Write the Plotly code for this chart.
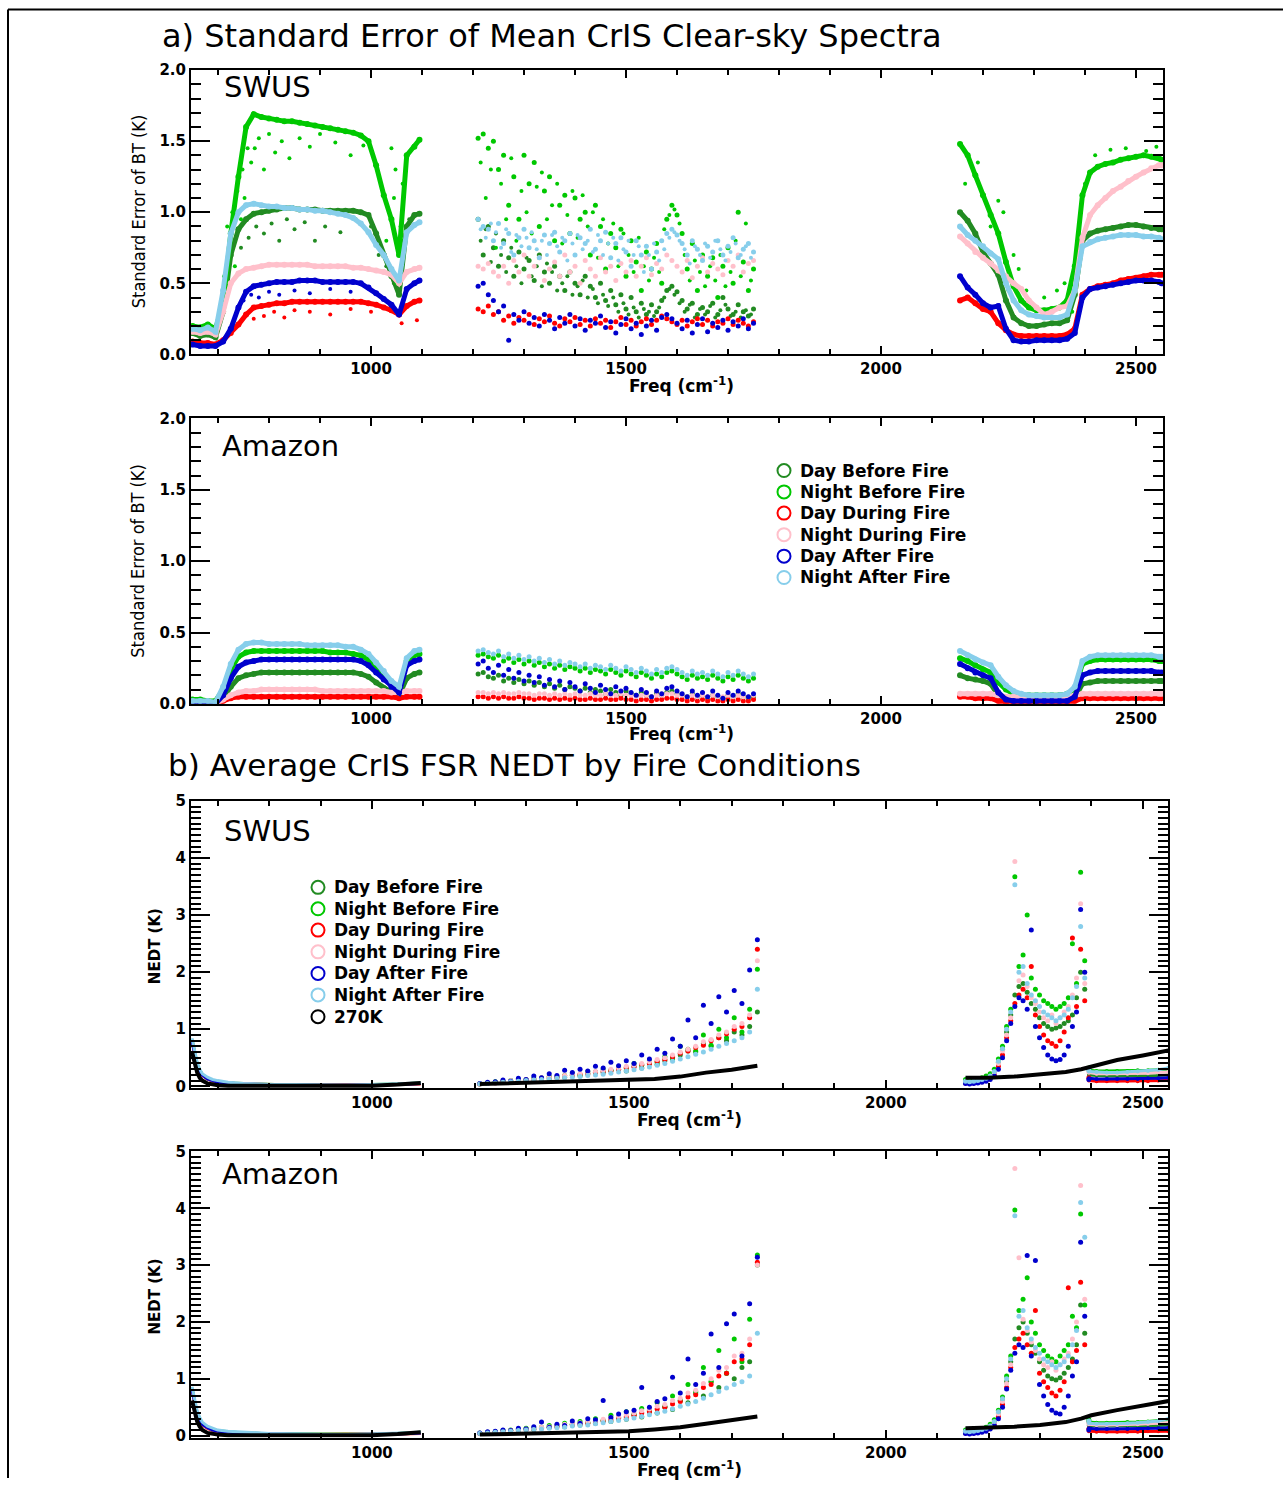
import plotly.graph_objects as go

W, H = 1283, 1487

SERIES = ["Day Before Fire", "Night Before Fire", "Day During Fire",
          "Night During Fire", "Day After Fire", "Night After Fire"]
COLORS = ["#228B22", "#00C800", "#FF0000", "#FFC0CB", "#0000CD", "#87CEEB"]
REF_NAME = "270K"
REF_COLOR = "#000000"

# ---------------- frequency grids (cm-1) ----------------
F1 = [650, 665, 680, 695, 710, 725, 740, 755, 770, 785,
      800, 815, 830, 845, 860, 875, 890, 905, 920, 935,
      950, 965, 980, 995, 1010, 1025, 1040, 1055, 1070, 1085, 1095]
F2 = list(range(1210, 1751, 10))
F2X = list(range(1215, 1750, 10))
F3 = [2155, 2170, 2185, 2200, 2215, 2230, 2245, 2260, 2275, 2290,
      2305, 2320, 2335, 2350, 2365, 2380, 2395, 2410, 2425, 2440,
      2455, 2470, 2485, 2500, 2515, 2530, 2545, 2550]

FB1 = [650, 655, 660, 665, 670, 680, 690, 700, 720, 750, 800, 850, 900, 950, 1000, 1050, 1095]
FB2 = list(range(1210, 1751, 15))
FB2K = [1210, 1300, 1400, 1500, 1550, 1600, 1650, 1700, 1750]
FB3 = list(range(2155, 2396, 8))
FB3F = [2395, 2410, 2430, 2450, 2470, 2490, 2510, 2530, 2550]
FB3K = [2155, 2200, 2250, 2300, 2350, 2380, 2400, 2450, 2500, 2550]

# ---------------- a) SWUS standard error (K) ----------------
A_SWUS_B1 = [
    [0.15, 0.13, 0.14, 0.12, 0.30, 0.70, 0.88, 0.95, 0.99, 1.00,
     1.01, 1.02, 1.03, 1.03, 1.02, 1.02, 1.02, 1.01, 1.01, 1.01,
     1.01, 1.01, 1.00, 0.98, 0.85, 0.70, 0.55, 0.42, 0.90, 0.98, 0.99],
    [0.20, 0.19, 0.21, 0.18, 0.35, 0.85, 1.25, 1.60, 1.69, 1.67,
     1.66, 1.65, 1.64, 1.64, 1.63, 1.62, 1.61, 1.60, 1.59, 1.58,
     1.57, 1.56, 1.54, 1.50, 1.33, 1.12, 0.95, 0.70, 1.40, 1.46, 1.51],
    [0.09, 0.08, 0.08, 0.07, 0.10, 0.15, 0.21, 0.28, 0.33, 0.34,
     0.35, 0.36, 0.36, 0.37, 0.37, 0.37, 0.37, 0.37, 0.37, 0.37,
     0.37, 0.37, 0.37, 0.36, 0.35, 0.33, 0.31, 0.28, 0.34, 0.37, 0.38],
    [0.16, 0.15, 0.16, 0.14, 0.30, 0.50, 0.57, 0.60, 0.61, 0.62,
     0.63, 0.63, 0.63, 0.63, 0.63, 0.63, 0.62, 0.62, 0.62, 0.62,
     0.62, 0.61, 0.61, 0.60, 0.59, 0.58, 0.56, 0.50, 0.58, 0.60, 0.61],
    [0.07, 0.06, 0.06, 0.06, 0.09, 0.18, 0.33, 0.44, 0.48, 0.49,
     0.50, 0.51, 0.51, 0.51, 0.52, 0.52, 0.52, 0.51, 0.51, 0.51,
     0.51, 0.51, 0.50, 0.47, 0.43, 0.39, 0.35, 0.28, 0.46, 0.50, 0.52],
    [0.18, 0.17, 0.19, 0.16, 0.45, 0.85, 1.00, 1.05, 1.06, 1.05,
     1.04, 1.04, 1.03, 1.03, 1.02, 1.02, 1.01, 1.01, 1.00, 0.99,
     0.98, 0.96, 0.92, 0.86, 0.77, 0.70, 0.60, 0.52, 0.86, 0.91, 0.93],
]
A_SWUS_B2 = [
    [0.95, 0.70, 0.90, 0.75, 0.62, 0.80, 0.68, 0.55, 0.72, 0.60,
     0.66, 0.52, 0.70, 0.58, 0.50, 0.62, 0.55, 0.45, 0.58, 0.50,
     0.42, 0.55, 0.48, 0.40, 0.50, 0.38, 0.45, 0.35, 0.42, 0.32,
     0.40, 0.30, 0.36, 0.28, 0.35, 0.30, 0.38, 0.45, 0.48, 0.44,
     0.38, 0.32, 0.36, 0.28, 0.33, 0.30, 0.36, 0.28, 0.40, 0.32,
     0.28, 0.35, 0.30, 0.27, 0.32],
    [1.52, 1.55, 1.45, 1.50, 1.30, 1.40, 1.05, 1.25, 0.95, 1.40,
     1.20, 1.35, 0.90, 1.15, 1.25, 0.80, 1.05, 1.12, 0.85, 1.10,
     0.95, 1.00, 0.70, 1.05, 0.90, 0.60, 0.85, 0.75, 0.88, 0.55,
     0.80, 0.65, 0.45, 0.72, 0.60, 0.78, 0.50, 0.95, 1.05, 0.98,
     0.85, 0.60, 0.78, 0.45, 0.70, 0.55, 0.68, 0.40, 0.62, 0.75,
     0.50, 1.00, 0.65, 0.45, 0.60],
    [0.32, 0.30, 0.34, 0.28, 0.30, 0.24, 0.27, 0.22, 0.26, 0.24,
     0.28, 0.21, 0.25, 0.23, 0.27, 0.22, 0.20, 0.25, 0.23, 0.26,
     0.21, 0.24, 0.20, 0.25, 0.22, 0.24, 0.19, 0.23, 0.26, 0.21,
     0.24, 0.20, 0.23, 0.25, 0.21, 0.24, 0.27, 0.25, 0.23, 0.21,
     0.24, 0.20, 0.23, 0.25, 0.21, 0.24, 0.20, 0.23, 0.22, 0.25,
     0.21, 0.24, 0.22, 0.20, 0.23],
    [0.62, 0.60, 0.64, 0.58, 0.55, 0.62, 0.50, 0.66, 0.58, 0.70,
     0.55, 0.62, 0.68, 0.52, 0.60, 0.65, 0.55, 0.70, 0.58, 0.62,
     0.50, 0.66, 0.60, 0.55, 0.68, 0.58, 0.62, 0.52, 0.64, 0.58,
     0.66, 0.55, 0.62, 0.68, 0.56, 0.64, 0.60, 0.70, 0.66, 0.62,
     0.58, 0.66, 0.54, 0.62, 0.68, 0.58, 0.64, 0.60, 0.56, 0.66,
     0.62, 0.70, 0.58, 0.64, 0.66],
    [0.48, 0.50, 0.42, 0.38, 0.30, 0.34, 0.10, 0.28, 0.24, 0.30,
     0.22, 0.26, 0.20, 0.28, 0.24, 0.18, 0.26, 0.22, 0.28, 0.20,
     0.25, 0.17, 0.24, 0.22, 0.27, 0.19, 0.23, 0.15, 0.21, 0.25,
     0.18, 0.22, 0.14, 0.20, 0.24, 0.17, 0.26, 0.28, 0.25, 0.22,
     0.18, 0.24, 0.15, 0.21, 0.25, 0.16, 0.22, 0.19, 0.24, 0.17,
     0.23, 0.20, 0.25, 0.18, 0.22],
    [0.95, 0.90, 0.88, 0.80, 0.92, 0.78, 0.85, 0.70, 0.82, 0.88,
     0.75, 0.80, 0.68, 0.84, 0.78, 0.86, 0.72, 0.80, 0.85, 0.70,
     0.82, 0.78, 0.88, 0.74, 0.80, 0.86, 0.68, 0.78, 0.82, 0.72,
     0.62, 0.80, 0.70, 0.76, 0.60, 0.72, 0.80, 0.85, 0.88, 0.84,
     0.78, 0.70, 0.80, 0.74, 0.66, 0.76, 0.72, 0.80, 0.70, 0.76,
     0.82, 0.68, 0.74, 0.78, 0.72],
]
A_SWUS_B3 = [
    [1.00, 0.94, 0.85, 0.72, 0.64, 0.56, 0.38, 0.26, 0.22, 0.20,
     0.20, 0.21, 0.22, 0.22, 0.24, 0.42, 0.80, 0.85, 0.87, 0.88,
     0.89, 0.90, 0.91, 0.91, 0.90, 0.89, 0.88, 0.88],
    [1.48, 1.40, 1.26, 1.12, 0.98, 0.85, 0.65, 0.48, 0.38, 0.33,
     0.31, 0.31, 0.32, 0.33, 0.38, 0.62, 1.12, 1.28, 1.32, 1.34,
     1.35, 1.37, 1.38, 1.39, 1.40, 1.39, 1.38, 1.37],
    [0.38, 0.40, 0.36, 0.32, 0.30, 0.22, 0.17, 0.14, 0.13, 0.13,
     0.13, 0.13, 0.13, 0.13, 0.14, 0.18, 0.42, 0.46, 0.48, 0.49,
     0.50, 0.52, 0.53, 0.54, 0.55, 0.56, 0.56, 0.56],
    [0.83, 0.78, 0.72, 0.68, 0.64, 0.59, 0.55, 0.50, 0.46, 0.38,
     0.33, 0.28, 0.30, 0.33, 0.34, 0.45, 0.82, 0.98, 1.05, 1.10,
     1.15, 1.18, 1.22, 1.25, 1.28, 1.31, 1.33, 1.33],
    [0.55, 0.47, 0.42, 0.36, 0.33, 0.34, 0.18, 0.10, 0.09, 0.09,
     0.10, 0.10, 0.10, 0.10, 0.11, 0.15, 0.40, 0.46, 0.47, 0.48,
     0.49, 0.50, 0.51, 0.52, 0.52, 0.52, 0.51, 0.50],
    [0.90, 0.84, 0.80, 0.76, 0.71, 0.67, 0.50, 0.38, 0.31, 0.28,
     0.27, 0.26, 0.26, 0.26, 0.28, 0.45, 0.76, 0.79, 0.81, 0.82,
     0.83, 0.84, 0.84, 0.84, 0.83, 0.83, 0.82, 0.81],
]
# extra scattered readings (SWUS, panel a)
A_SWUS_X1_FREQ = [
    [745, 760, 775, 790, 805, 820, 835, 850, 870, 890, 910, 940, 970, 1000, 1015, 1030, 1045, 1060, 1075],
    [705, 712, 715, 718, 722, 728, 733, 738, 745, 748,
     752, 758, 765, 772, 780, 790, 800, 812, 825, 840,
     860, 880, 900, 930, 960, 985, 1030, 1040, 1045, 1048,
     1050, 1058, 1062],
    [770, 790, 810, 830, 850, 880, 920, 960, 1000, 1060, 1090],
    [],
    [750, 765, 780, 800, 820, 850, 880, 920, 960],
    [],
]
A_SWUS_X1_VAL = [
    [0.75, 0.82, 0.90, 0.85, 0.92, 0.80, 0.95, 0.88, 0.93, 0.80, 0.90, 0.86, 0.95, 0.90, 0.70, 0.62, 0.50, 0.80, 0.95],
    [0.30, 0.55, 0.42, 0.90, 0.72, 1.00, 0.62, 1.15, 0.95, 1.30,
     1.10, 1.45, 1.35, 1.45, 1.52, 1.30, 1.55, 1.42, 1.50, 1.38,
     1.52, 1.46, 1.55, 1.49, 1.40, 1.47, 0.80, 1.45, 1.10, 1.30,
     0.50, 0.90, 1.20],
    [0.25, 0.27, 0.30, 0.26, 0.31, 0.30, 0.28, 0.32, 0.30, 0.22, 0.24],
    [],
    [0.38, 0.42, 0.40, 0.44, 0.42, 0.45, 0.43, 0.46, 0.44],
    [],
]
A_SWUS_X2_VAL = [
    [0.80, 0.88, 0.65, 0.85, 0.70, 0.58, 0.75, 0.62, 0.50, 0.68,
     0.55, 0.62, 0.48, 0.64, 0.58, 0.45, 0.50, 0.55, 0.42, 0.48,
     0.52, 0.40, 0.46, 0.36, 0.42, 0.34, 0.40, 0.30, 0.36, 0.28,
     0.33, 0.26, 0.32, 0.30, 0.27, 0.33, 0.40, 0.46, 0.42, 0.36,
     0.30, 0.35, 0.26, 0.32, 0.28, 0.34, 0.26, 0.31, 0.35, 0.27,
     0.30, 0.26, 0.31, 0.28],
    [1.35, 1.10, 1.30, 0.75, 1.20, 0.95, 1.38, 0.80, 1.15, 1.00,
     0.85, 1.18, 1.28, 0.95, 1.05, 1.20, 0.78, 0.98, 1.15, 0.82,
     1.12, 0.90, 1.00, 0.68, 0.95, 0.78, 0.92, 0.62, 0.85, 0.70,
     0.58, 0.82, 0.62, 0.52, 0.68, 0.58, 0.88, 0.98, 1.02, 0.92,
     0.70, 0.52, 0.66, 0.58, 0.48, 0.62, 0.52, 0.70, 0.48, 0.58,
     0.80, 0.55, 0.92, 0.52],
    [],
    [],
    [],
    [0.88, 0.82, 0.92, 0.86, 0.75, 0.88, 0.72, 0.84, 0.76, 0.82,
     0.86, 0.74, 0.80, 0.70, 0.84, 0.76, 0.82, 0.66, 0.78, 0.84,
     0.74, 0.80, 0.72, 0.84, 0.70, 0.78, 0.82, 0.66, 0.74, 0.80,
     0.70, 0.76, 0.58, 0.70, 0.78, 0.66, 0.74, 0.82, 0.86, 0.80,
     0.74, 0.64, 0.76, 0.70, 0.78, 0.68, 0.80, 0.74, 0.66, 0.72,
     0.78, 0.70, 0.76, 0.68],
]
A_SWUS_X3_FREQ = [
    [],
    [2165, 2190, 2215, 2230, 2240, 2250, 2260, 2270, 2285, 2320,
     2345, 2360, 2375, 2400, 2420, 2450, 2480, 2520, 2540],
    [], [], [], [],
]
A_SWUS_X3_VAL = [
    [],
    [1.20, 1.35, 0.90, 1.08, 1.00, 0.45, 0.70, 0.60, 0.45, 0.40,
     0.45, 0.50, 0.30, 1.20, 1.40, 1.44, 1.45, 1.43, 1.46],
    [], [], [], [],
]

# ---------------- a) Amazon standard error (K) ----------------
A_AMZ_B1 = [
    [0.00, 0.00, 0.00, 0.00, 0.04, 0.12, 0.18, 0.20, 0.21, 0.22,
     0.22, 0.22, 0.22, 0.22, 0.22, 0.22, 0.22, 0.22, 0.22, 0.22,
     0.22, 0.22, 0.21, 0.19, 0.15, 0.11, 0.08, 0.06, 0.18, 0.21, 0.22],
    [0.03, 0.03, 0.02, 0.02, 0.10, 0.24, 0.33, 0.36, 0.37, 0.37,
     0.37, 0.37, 0.37, 0.37, 0.37, 0.37, 0.37, 0.37, 0.36, 0.36,
     0.36, 0.35, 0.34, 0.31, 0.26, 0.20, 0.14, 0.10, 0.30, 0.34, 0.35],
    [0.00, 0.00, 0.00, 0.00, 0.02, 0.04, 0.05, 0.05, 0.05, 0.05,
     0.05, 0.05, 0.05, 0.05, 0.05, 0.05, 0.05, 0.05, 0.05, 0.05,
     0.05, 0.05, 0.05, 0.05, 0.05, 0.05, 0.05, 0.04, 0.05, 0.05, 0.05],
    [0.00, 0.00, 0.00, 0.00, 0.03, 0.06, 0.08, 0.09, 0.09, 0.10,
     0.10, 0.10, 0.10, 0.10, 0.10, 0.10, 0.10, 0.09, 0.09, 0.09,
     0.09, 0.09, 0.09, 0.09, 0.09, 0.09, 0.08, 0.08, 0.09, 0.09, 0.09],
    [0.00, 0.00, 0.00, 0.00, 0.06, 0.18, 0.26, 0.29, 0.30, 0.31,
     0.31, 0.31, 0.31, 0.31, 0.31, 0.31, 0.31, 0.31, 0.31, 0.31,
     0.31, 0.31, 0.30, 0.27, 0.22, 0.17, 0.12, 0.08, 0.27, 0.30, 0.31],
    [0.02, 0.02, 0.02, 0.01, 0.12, 0.28, 0.38, 0.42, 0.43, 0.43,
     0.42, 0.42, 0.42, 0.42, 0.42, 0.41, 0.41, 0.41, 0.41, 0.41,
     0.40, 0.40, 0.38, 0.35, 0.29, 0.23, 0.16, 0.12, 0.32, 0.37, 0.38],
]
A_AMZ_B2 = [
    [0.21, 0.22, 0.19, 0.18, 0.20, 0.16, 0.18, 0.15, 0.17, 0.14,
     0.16, 0.13, 0.15, 0.12, 0.14, 0.11, 0.13, 0.10, 0.12, 0.11,
     0.09, 0.11, 0.08, 0.10, 0.09, 0.07, 0.10, 0.08, 0.06, 0.09,
     0.07, 0.06, 0.08, 0.06, 0.05, 0.07, 0.06, 0.08, 0.09, 0.07,
     0.06, 0.05, 0.07, 0.05, 0.06, 0.04, 0.06, 0.05, 0.04, 0.06,
     0.05, 0.07, 0.05, 0.04, 0.05],
    [0.34, 0.35, 0.33, 0.32, 0.34, 0.30, 0.32, 0.29, 0.31, 0.28,
     0.30, 0.27, 0.29, 0.26, 0.28, 0.25, 0.27, 0.24, 0.26, 0.25,
     0.23, 0.25, 0.22, 0.24, 0.23, 0.21, 0.24, 0.22, 0.20, 0.23,
     0.21, 0.19, 0.22, 0.20, 0.18, 0.21, 0.19, 0.22, 0.23, 0.21,
     0.19, 0.17, 0.20, 0.18, 0.19, 0.17, 0.20, 0.18, 0.16, 0.19,
     0.17, 0.20, 0.18, 0.16, 0.18],
    [0.05, 0.05, 0.04, 0.05, 0.04, 0.05, 0.04, 0.04, 0.05, 0.04,
     0.04, 0.03, 0.04, 0.04, 0.03, 0.04, 0.03, 0.04, 0.03, 0.04,
     0.03, 0.03, 0.04, 0.03, 0.03, 0.04, 0.03, 0.03, 0.04, 0.03,
     0.03, 0.02, 0.03, 0.03, 0.02, 0.03, 0.03, 0.04, 0.04, 0.03,
     0.03, 0.02, 0.03, 0.02, 0.03, 0.02, 0.03, 0.02, 0.02, 0.03,
     0.02, 0.03, 0.02, 0.02, 0.03],
    [0.08, 0.08, 0.07, 0.08, 0.07, 0.08, 0.07, 0.07, 0.08, 0.07,
     0.07, 0.06, 0.07, 0.07, 0.06, 0.07, 0.06, 0.07, 0.06, 0.07,
     0.06, 0.06, 0.07, 0.06, 0.06, 0.07, 0.06, 0.06, 0.07, 0.06,
     0.06, 0.05, 0.06, 0.06, 0.05, 0.06, 0.06, 0.07, 0.07, 0.06,
     0.06, 0.05, 0.06, 0.05, 0.06, 0.05, 0.06, 0.05, 0.05, 0.06,
     0.05, 0.06, 0.05, 0.05, 0.06],
    [0.28, 0.30, 0.25, 0.22, 0.27, 0.20, 0.24, 0.18, 0.22, 0.16,
     0.20, 0.15, 0.19, 0.13, 0.17, 0.12, 0.16, 0.10, 0.15, 0.12,
     0.09, 0.14, 0.11, 0.08, 0.13, 0.10, 0.07, 0.12, 0.09, 0.11,
     0.08, 0.06, 0.10, 0.08, 0.05, 0.09, 0.07, 0.11, 0.12, 0.09,
     0.07, 0.05, 0.09, 0.06, 0.08, 0.05, 0.09, 0.06, 0.04, 0.08,
     0.06, 0.09, 0.07, 0.05, 0.07],
    [0.37, 0.38, 0.36, 0.35, 0.37, 0.33, 0.35, 0.32, 0.34, 0.31,
     0.33, 0.30, 0.32, 0.29, 0.31, 0.28, 0.30, 0.27, 0.29, 0.28,
     0.26, 0.28, 0.25, 0.27, 0.26, 0.24, 0.27, 0.25, 0.23, 0.26,
     0.24, 0.22, 0.25, 0.23, 0.21, 0.24, 0.22, 0.25, 0.26, 0.24,
     0.22, 0.20, 0.23, 0.21, 0.22, 0.20, 0.23, 0.21, 0.19, 0.22,
     0.20, 0.23, 0.21, 0.19, 0.21],
]
A_AMZ_B3 = [
    [0.20, 0.18, 0.17, 0.16, 0.14, 0.06, 0.03, 0.02, 0.02, 0.02,
     0.02, 0.02, 0.02, 0.02, 0.02, 0.04, 0.14, 0.15, 0.16, 0.16,
     0.16, 0.16, 0.16, 0.16, 0.16, 0.16, 0.16, 0.16],
    [0.32, 0.30, 0.27, 0.24, 0.22, 0.15, 0.10, 0.07, 0.06, 0.06,
     0.06, 0.06, 0.06, 0.06, 0.07, 0.10, 0.28, 0.30, 0.31, 0.31,
     0.31, 0.31, 0.31, 0.31, 0.31, 0.31, 0.30, 0.30],
    [0.05, 0.05, 0.04, 0.04, 0.04, 0.02, 0.01, 0.01, 0.01, 0.01,
     0.01, 0.01, 0.01, 0.01, 0.01, 0.02, 0.04, 0.04, 0.04, 0.04,
     0.04, 0.04, 0.04, 0.04, 0.04, 0.04, 0.04, 0.04],
    [0.07, 0.07, 0.07, 0.07, 0.07, 0.06, 0.05, 0.05, 0.05, 0.05,
     0.05, 0.05, 0.05, 0.05, 0.05, 0.06, 0.07, 0.07, 0.07, 0.07,
     0.07, 0.07, 0.07, 0.07, 0.07, 0.07, 0.07, 0.07],
    [0.28, 0.25, 0.22, 0.20, 0.18, 0.08, 0.03, 0.02, 0.02, 0.02,
     0.02, 0.02, 0.02, 0.02, 0.02, 0.05, 0.20, 0.22, 0.23, 0.23,
     0.23, 0.23, 0.23, 0.23, 0.23, 0.23, 0.22, 0.22],
    [0.37, 0.34, 0.31, 0.29, 0.27, 0.19, 0.13, 0.09, 0.07, 0.06,
     0.06, 0.06, 0.06, 0.06, 0.07, 0.12, 0.30, 0.33, 0.34, 0.34,
     0.34, 0.34, 0.34, 0.34, 0.34, 0.34, 0.33, 0.33],
]

# ---------------- b) SWUS NEDT (K) ----------------
B_SWUS_B1 = [
    [0.80, 0.56, 0.38, 0.27, 0.20, 0.13, 0.10, 0.08, 0.06, 0.04, 0.03, 0.02, 0.02, 0.02, 0.02, 0.03, 0.05],
    [0.82, 0.57, 0.39, 0.28, 0.21, 0.14, 0.10, 0.08, 0.06, 0.05, 0.03, 0.02, 0.02, 0.02, 0.03, 0.04, 0.06],
    [0.78, 0.55, 0.37, 0.26, 0.19, 0.13, 0.09, 0.07, 0.05, 0.04, 0.02, 0.02, 0.02, 0.02, 0.02, 0.03, 0.04],
    [0.81, 0.56, 0.38, 0.27, 0.20, 0.14, 0.10, 0.08, 0.06, 0.05, 0.03, 0.02, 0.02, 0.02, 0.02, 0.03, 0.05],
    [0.79, 0.55, 0.37, 0.27, 0.20, 0.13, 0.10, 0.07, 0.06, 0.04, 0.03, 0.02, 0.02, 0.02, 0.02, 0.03, 0.05],
    [0.84, 0.60, 0.42, 0.30, 0.22, 0.16, 0.12, 0.10, 0.07, 0.05, 0.03, 0.03, 0.02, 0.02, 0.03, 0.05, 0.06],
]
B_SWUS_B2 = [
    [0.04, 0.06, 0.07, 0.08, 0.10, 0.09, 0.12, 0.11, 0.15, 0.13,
     0.17, 0.16, 0.20, 0.18, 0.22, 0.25, 0.24, 0.28, 0.30, 0.27,
     0.35, 0.32, 0.40, 0.38, 0.45, 0.50, 0.55, 0.62, 0.60, 0.75,
     0.70, 0.85, 0.80, 0.95, 0.90, 1.05, 1.30],
    [0.05, 0.06, 0.08, 0.09, 0.10, 0.12, 0.11, 0.14, 0.13, 0.17,
     0.16, 0.19, 0.22, 0.20, 0.26, 0.24, 0.30, 0.28, 0.34, 0.32,
     0.40, 0.37, 0.45, 0.42, 0.52, 0.48, 0.70, 0.65, 0.62, 0.90,
     0.72, 1.00, 0.85, 1.20, 0.95, 1.35, 2.05],
    [0.04, 0.05, 0.06, 0.08, 0.09, 0.10, 0.11, 0.12, 0.14, 0.15,
     0.15, 0.18, 0.19, 0.21, 0.22, 0.24, 0.26, 0.27, 0.30, 0.33,
     0.34, 0.38, 0.40, 0.44, 0.47, 0.52, 0.58, 0.62, 0.68, 0.72,
     0.80, 0.85, 0.92, 1.00, 1.05, 1.20, 2.40],
    [0.05, 0.06, 0.07, 0.08, 0.10, 0.11, 0.12, 0.13, 0.15, 0.16,
     0.18, 0.19, 0.21, 0.22, 0.24, 0.26, 0.28, 0.30, 0.32, 0.35,
     0.37, 0.40, 0.43, 0.47, 0.50, 0.55, 0.60, 0.65, 0.70, 0.78,
     0.82, 0.90, 0.95, 1.05, 1.10, 1.25, 2.20],
    [0.05, 0.07, 0.08, 0.11, 0.09, 0.14, 0.12, 0.18, 0.15, 0.22,
     0.19, 0.28, 0.24, 0.30, 0.27, 0.35, 0.32, 0.42, 0.36, 0.45,
     0.40, 0.55, 0.48, 0.65, 0.58, 0.83, 0.70, 1.16, 0.85, 1.42,
     1.10, 1.57, 1.30, 1.68, 1.45, 2.04, 2.57],
    [0.04, 0.05, 0.06, 0.07, 0.08, 0.09, 0.10, 0.11, 0.12, 0.13,
     0.14, 0.15, 0.16, 0.17, 0.19, 0.20, 0.21, 0.23, 0.25, 0.27,
     0.29, 0.31, 0.34, 0.37, 0.40, 0.44, 0.48, 0.52, 0.56, 0.60,
     0.65, 0.70, 0.75, 0.80, 0.85, 0.95, 1.70],
]
B_SWUS_B3 = [
    [0.10, 0.09, 0.10, 0.11, 0.12, 0.15, 0.18, 0.25, 0.42, 0.65,
     0.95, 1.25, 1.60, 1.75, 1.80, 1.65, 1.45, 1.35, 1.20, 1.10,
     1.05, 1.00, 1.02, 1.05, 1.10, 1.15, 1.25, 1.55, 2.00, 1.70, 0.30],
    [0.12, 0.11, 0.12, 0.13, 0.15, 0.18, 0.22, 0.30, 0.48, 0.70,
     1.05, 1.35, 3.67, 2.10, 2.30, 3.00, 1.90, 1.70, 1.60, 1.50,
     1.45, 1.40, 1.35, 1.40, 1.45, 1.55, 2.50, 1.80, 3.75, 2.20, 0.32],
    [0.06, 0.05, 0.06, 0.07, 0.08, 0.10, 0.14, 0.20, 0.35, 0.55,
     0.85, 1.15, 1.45, 1.60, 1.70, 1.55, 2.10, 1.25, 1.05, 0.90,
     0.80, 0.75, 0.70, 0.80, 0.95, 1.20, 2.60, 1.40, 2.40, 1.50, 0.15],
    [0.08, 0.07, 0.08, 0.09, 0.10, 0.12, 0.16, 0.24, 0.40, 0.62,
     0.90, 1.20, 3.94, 1.85, 1.95, 1.75, 1.55, 1.45, 1.30, 1.20,
     1.15, 1.25, 1.10, 1.20, 1.30, 1.40, 1.60, 1.90, 3.20, 1.80, 0.25],
    [0.05, 0.04, 0.05, 0.06, 0.07, 0.09, 0.12, 0.18, 0.30, 0.50,
     0.80, 1.10, 1.40, 1.55, 1.50, 1.35, 2.74, 1.05, 0.85, 0.68,
     0.55, 0.48, 0.45, 0.47, 0.55, 0.70, 1.05, 1.30, 3.10, 2.00, 0.12],
    [0.09, 0.08, 0.09, 0.10, 0.12, 0.14, 0.18, 0.26, 0.44, 0.66,
     1.00, 1.30, 3.53, 2.00, 2.10, 1.80, 1.60, 1.50, 1.40, 1.30,
     1.25, 1.20, 1.15, 1.20, 1.25, 1.35, 1.55, 1.75, 2.80, 1.90, 0.28],
]
B_SWUS_B3F = [
    [0.20, 0.19, 0.18, 0.18, 0.18, 0.18, 0.19, 0.19, 0.20],
    [0.28, 0.27, 0.27, 0.27, 0.27, 0.28, 0.28, 0.29, 0.30],
    [0.10, 0.09, 0.09, 0.09, 0.09, 0.09, 0.09, 0.10, 0.10],
    [0.24, 0.22, 0.22, 0.22, 0.22, 0.23, 0.23, 0.24, 0.25],
    [0.14, 0.13, 0.13, 0.13, 0.13, 0.13, 0.14, 0.14, 0.15],
    [0.26, 0.25, 0.24, 0.24, 0.25, 0.26, 0.27, 0.29, 0.32],
]
K_SWUS_B1 = [0.60, 0.38, 0.24, 0.15, 0.10, 0.05, 0.03, 0.02, 0.01, 0.01, 0.01, 0.01, 0.01, 0.01, 0.01, 0.03, 0.06]
K_SWUS_B2 = [0.04, 0.06, 0.08, 0.11, 0.13, 0.17, 0.24, 0.29, 0.36]
K_SWUS_B3 = [0.15, 0.15, 0.17, 0.21, 0.25, 0.30, 0.35, 0.46, 0.54, 0.63]

# ---------------- b) Amazon NEDT (K) ----------------
B_AMZ_B1 = [
    [0.82, 0.57, 0.39, 0.28, 0.20, 0.14, 0.10, 0.08, 0.06, 0.05, 0.03, 0.02, 0.02, 0.02, 0.02, 0.03, 0.05],
    [0.84, 0.58, 0.40, 0.29, 0.21, 0.15, 0.11, 0.09, 0.07, 0.05, 0.03, 0.03, 0.02, 0.02, 0.03, 0.04, 0.06],
    [0.80, 0.55, 0.37, 0.27, 0.19, 0.13, 0.09, 0.07, 0.05, 0.04, 0.02, 0.02, 0.02, 0.02, 0.02, 0.03, 0.04],
    [0.83, 0.57, 0.39, 0.28, 0.20, 0.14, 0.10, 0.08, 0.06, 0.05, 0.03, 0.02, 0.02, 0.02, 0.02, 0.03, 0.05],
    [0.81, 0.56, 0.38, 0.27, 0.20, 0.14, 0.10, 0.08, 0.06, 0.04, 0.03, 0.02, 0.02, 0.02, 0.02, 0.03, 0.05],
    [0.86, 0.62, 0.44, 0.32, 0.24, 0.17, 0.13, 0.10, 0.08, 0.06, 0.04, 0.03, 0.02, 0.02, 0.03, 0.05, 0.06],
]
B_AMZ_B2 = [
    [0.04, 0.05, 0.07, 0.08, 0.09, 0.10, 0.12, 0.11, 0.14, 0.15,
     0.17, 0.16, 0.20, 0.19, 0.23, 0.22, 0.27, 0.25, 0.30, 0.29,
     0.36, 0.33, 0.42, 0.40, 0.50, 0.46, 0.62, 0.58, 0.75, 0.70,
     0.95, 0.85, 1.10, 1.00, 1.20, 1.30, 3.00],
    [0.05, 0.06, 0.07, 0.09, 0.10, 0.11, 0.13, 0.14, 0.15, 0.18,
     0.17, 0.22, 0.20, 0.25, 0.23, 0.30, 0.27, 0.36, 0.32, 0.42,
     0.38, 0.48, 0.45, 0.58, 0.52, 0.70, 0.62, 0.90, 0.78, 1.20,
     0.95, 1.50, 1.10, 1.70, 1.30, 2.05, 3.18],
    [0.04, 0.05, 0.06, 0.07, 0.09, 0.10, 0.11, 0.12, 0.13, 0.15,
     0.16, 0.18, 0.19, 0.21, 0.22, 0.25, 0.26, 0.28, 0.31, 0.33,
     0.36, 0.40, 0.42, 0.47, 0.50, 0.56, 0.60, 0.68, 0.72, 0.85,
     0.90, 1.05, 1.10, 1.30, 1.35, 1.60, 3.05],
    [0.05, 0.06, 0.07, 0.08, 0.09, 0.11, 0.12, 0.13, 0.15, 0.16,
     0.18, 0.20, 0.21, 0.23, 0.25, 0.27, 0.29, 0.32, 0.34, 0.37,
     0.40, 0.44, 0.47, 0.52, 0.55, 0.62, 0.66, 0.75, 0.80, 0.92,
     1.00, 1.15, 1.20, 1.40, 1.45, 1.70, 3.00],
    [0.05, 0.07, 0.08, 0.10, 0.09, 0.13, 0.12, 0.16, 0.24, 0.15,
     0.20, 0.18, 0.26, 0.22, 0.30, 0.28, 0.62, 0.32, 0.38, 0.42,
     0.45, 0.85, 0.50, 0.60, 0.65, 1.03, 0.75, 1.35, 0.90, 1.10,
     1.79, 1.20, 1.97, 2.14, 1.40, 2.32, 3.14],
    [0.04, 0.05, 0.06, 0.07, 0.08, 0.09, 0.10, 0.11, 0.12, 0.13,
     0.14, 0.15, 0.17, 0.18, 0.19, 0.21, 0.23, 0.25, 0.27, 0.29,
     0.31, 0.34, 0.37, 0.40, 0.43, 0.47, 0.52, 0.56, 0.60, 0.66,
     0.72, 0.78, 0.84, 0.90, 0.95, 1.05, 1.80],
]
B_AMZ_B3 = [
    [0.08, 0.07, 0.08, 0.09, 0.10, 0.12, 0.16, 0.24, 0.40, 0.62,
     0.95, 1.30, 1.70, 1.90, 2.00, 1.80, 1.60, 1.45, 1.30, 1.15,
     1.05, 1.00, 0.98, 1.02, 1.10, 1.20, 1.35, 1.60, 2.30, 1.80, 0.25],
    [0.10, 0.09, 0.10, 0.11, 0.12, 0.15, 0.20, 0.28, 0.45, 0.68,
     1.05, 1.40, 3.97, 2.20, 2.40, 2.78, 2.00, 1.80, 1.60, 1.50,
     1.40, 1.35, 1.30, 1.40, 1.50, 1.60, 2.10, 1.90, 3.90, 2.30, 0.28],
    [0.05, 0.04, 0.05, 0.06, 0.07, 0.09, 0.13, 0.20, 0.34, 0.55,
     0.85, 1.20, 1.55, 1.70, 1.80, 1.60, 1.45, 2.20, 1.10, 0.95,
     0.85, 0.75, 0.70, 0.80, 0.95, 2.60, 1.30, 1.50, 2.70, 1.60, 0.12],
    [0.07, 0.06, 0.07, 0.08, 0.09, 0.11, 0.15, 0.22, 0.38, 0.60,
     0.92, 1.25, 4.70, 3.13, 2.05, 1.85, 1.65, 1.50, 1.35, 1.25,
     1.20, 1.30, 1.15, 1.25, 1.35, 1.45, 1.70, 2.00, 4.40, 2.40, 0.22],
    [0.04, 0.03, 0.04, 0.05, 0.06, 0.08, 0.12, 0.18, 0.30, 0.50,
     0.82, 1.15, 1.45, 1.60, 1.55, 3.17, 1.40, 3.08, 0.90, 0.70,
     0.55, 0.45, 0.40, 0.38, 0.50, 0.70, 1.05, 1.30, 3.40, 2.10, 0.10],
    [0.08, 0.07, 0.08, 0.09, 0.11, 0.13, 0.17, 0.25, 0.42, 0.65,
     1.00, 1.35, 3.87, 2.10, 2.20, 1.90, 1.70, 1.55, 1.45, 1.35,
     1.30, 1.25, 1.20, 1.25, 1.30, 1.40, 1.60, 1.85, 4.10, 3.49, 0.26],
]
B_AMZ_B3F = [
    [0.18, 0.17, 0.17, 0.17, 0.17, 0.17, 0.18, 0.18, 0.19],
    [0.24, 0.23, 0.23, 0.23, 0.24, 0.24, 0.25, 0.26, 0.28],
    [0.08, 0.07, 0.07, 0.07, 0.07, 0.07, 0.08, 0.08, 0.08],
    [0.20, 0.19, 0.19, 0.19, 0.20, 0.20, 0.21, 0.22, 0.23],
    [0.13, 0.12, 0.12, 0.12, 0.12, 0.12, 0.13, 0.13, 0.14],
    [0.22, 0.21, 0.21, 0.21, 0.22, 0.23, 0.24, 0.26, 0.30],
]
K_AMZ_B1 = [0.62, 0.40, 0.25, 0.16, 0.10, 0.05, 0.03, 0.02, 0.01, 0.01, 0.01, 0.01, 0.01, 0.01, 0.01, 0.03, 0.06]
K_AMZ_B2 = [0.02, 0.04, 0.06, 0.08, 0.11, 0.15, 0.21, 0.27, 0.34]
K_AMZ_B3 = [0.13, 0.14, 0.16, 0.19, 0.24, 0.30, 0.36, 0.45, 0.53, 0.61]

# ================= figure =================
# The captured page maps figure pixel y to screen as  y_screen = 10 + 0.9867 * y.
# Target positions below are given in screen (reference) pixels and converted here.
V_OFF, V_SCALE = 10.0, 0.9867


def px(x):
    return x / W


def py(y):
    yf = (y - V_OFF) / V_SCALE
    yf = min(max(yf, 0.5), H - 0.5)
    return 1 - yf / H


fig = go.Figure()


def add(xa, ya, x, y, color, mode, name, size=5, width=4):
    if len(x) == 0:
        return
    kw = dict(x=x, y=y, xaxis=xa, yaxis=ya, mode=mode, name=name,
              showlegend=False, hoverinfo="skip", cliponaxis=True)
    if "markers" in mode:
        kw["marker"] = dict(color=color, size=size, line=dict(width=0))
    if "lines" in mode:
        kw["line"] = dict(color=color, width=width)
    fig.add_trace(go.Scatter(**kw))


# panel a SWUS (x, y) and Amazon (x2, y2)
for i in range(6):
    c, n = COLORS[i], SERIES[i]
    add("x", "y", F1, A_SWUS_B1[i], c, "lines+markers", n, size=6, width=5)
    add("x", "y", F2, A_SWUS_B2[i], c, "markers", n, size=5)
    add("x", "y", F3, A_SWUS_B3[i], c, "lines+markers", n, size=6, width=5)
    add("x", "y", A_SWUS_X1_FREQ[i], A_SWUS_X1_VAL[i], c, "markers", n, size=4)
    if A_SWUS_X2_VAL[i]:
        add("x", "y", F2X, A_SWUS_X2_VAL[i], c, "markers", n, size=4)
    add("x", "y", A_SWUS_X3_FREQ[i], A_SWUS_X3_VAL[i], c, "markers", n, size=4)

for i in range(6):
    c, n = COLORS[i], SERIES[i]
    add("x2", "y2", F1, A_AMZ_B1[i], c, "lines+markers", n, size=6, width=5)
    add("x2", "y2", F2, A_AMZ_B2[i], c, "markers", n, size=5)
    add("x2", "y2", F3, A_AMZ_B3[i], c, "lines+markers", n, size=6, width=5)

# panel b SWUS (x3, y3) and Amazon (x4, y4)
for xa, ya, b1, b2, b3, b3f, k1, k2, k3 in [
        ("x3", "y3", B_SWUS_B1, B_SWUS_B2, B_SWUS_B3, B_SWUS_B3F, K_SWUS_B1, K_SWUS_B2, K_SWUS_B3),
        ("x4", "y4", B_AMZ_B1, B_AMZ_B2, B_AMZ_B3, B_AMZ_B3F, K_AMZ_B1, K_AMZ_B2, K_AMZ_B3)]:
    for i in range(6):
        c, n = COLORS[i], SERIES[i]
        add(xa, ya, FB1, b1[i], c, "lines", n, width=3)
        add(xa, ya, FB2, b2[i], c, "markers", n, size=5)
        add(xa, ya, FB3, b3[i], c, "markers", n, size=5)
        add(xa, ya, FB3F, b3f[i], c, "lines+markers", n, size=4, width=3)
    add(xa, ya, FB1, k1, REF_COLOR, "lines", REF_NAME, width=4)
    add(xa, ya, FB2K, k2, REF_COLOR, "lines", REF_NAME, width=4)
    add(xa, ya, FB3K, k3, REF_COLOR, "lines", REF_NAME, width=4)

TICKFONT = dict(family="DejaVu Sans", size=15, color="black", weight="bold")


def xax(dom, rng, anchor):
    return dict(domain=dom, range=rng, anchor=anchor, showline=True,
                linecolor="black", linewidth=2, mirror="ticks",
                ticks="inside", ticklen=8, tickwidth=2, tickcolor="black",
                tickmode="linear", tick0=0, dtick=500,
                minor=dict(ticks="inside", ticklen=5, tickwidth=1.5,
                           tickcolor="black", dtick=100, tick0=0),
                showgrid=False, zeroline=False, tickfont=TICKFONT)


def yax(dom, rng, anchor, dtick, mdtick, fmt):
    return dict(domain=dom, range=rng, anchor=anchor, showline=True,
                linecolor="black", linewidth=2, mirror="ticks",
                ticks="inside", ticklen=19, tickwidth=2, tickcolor="black",
                tickmode="linear", tick0=0, dtick=dtick, tickformat=fmt,
                minor=dict(ticks="inside", ticklen=10, tickwidth=1.5,
                           tickcolor="black", dtick=mdtick, tick0=0),
                showgrid=False, zeroline=False, tickfont=TICKFONT)


XA = [px(191), px(1163)]
XB = [px(191), px(1168)]
D1 = [py(355), py(71)]
D2 = [py(704), py(419)]
D3 = [py(1088), py(801)]
D4 = [py(1437), py(1151)]

fig.update_layout(
    width=W, height=H, margin=dict(l=0, r=0, t=0, b=0),
    paper_bgcolor="white", plot_bgcolor="white", showlegend=False,
    xaxis=xax(XA, [647, 2553], "y"),
    yaxis=yax(D1, [0, 2], "x", 0.5, 0.1, ".1f"),
    xaxis2=xax(XA, [647, 2553], "y2"),
    yaxis2=yax(D2, [0, 2], "x2", 0.5, 0.1, ".1f"),
    xaxis3=xax(XB, [648, 2549], "y3"),
    yaxis3=yax(D3, [-0.035, 5.0], "x3", 1, 0.1, "d"),
    xaxis4=xax(XB, [648, 2549], "y4"),
    yaxis4=yax(D4, [-0.035, 5.0], "x4", 1, 0.1, "d"),
)

ann = []


def text(x, y, s, size, family="DejaVu Sans", weight="normal", xanchor="left", angle=0):
    ann.append(dict(x=px(x), y=py(y), xref="paper", yref="paper", text=s,
                    showarrow=False, xanchor=xanchor, yanchor="middle",
                    textangle=angle,
                    font=dict(family=family, size=size, color="black", weight=weight)))


text(160, 37, "a) Standard Error of Mean CrIS Clear-sky Spectra", 32)
text(166, 765, "b) Average CrIS FSR NEDT by Fire Conditions", 31)
text(222, 88, "SWUS", 29)
text(220, 446, "Amazon", 29)
text(222, 831, "SWUS", 29)
text(220, 1174, "Amazon", 29)
for yc in (386, 733, 1119, 1468):
    text(681 if yc < 800 else 689, yc, "Freq (cm<sup>-1</sup>)", 17,
         weight="bold", xanchor="center")
for yc in (213, 562):
    text(138, yc, "Standard Error of BT (K)", 18,
         family="DejaVu Sans Condensed, Liberation Sans Narrow, sans-serif",
         xanchor="center", angle=-90)
for yc in (946, 1296):
    text(155, yc, "NEDT (K)", 15, weight="bold", xanchor="center", angle=-90)

shapes = [
    dict(type="line", xref="paper", yref="paper", x0=px(8), x1=1, y0=py(8), y1=py(8),
         line=dict(color="black", width=2)),
    dict(type="line", xref="paper", yref="paper", x0=px(8), x1=px(8), y0=py(8), y1=0,
         line=dict(color="black", width=2)),
]


def legend(x_circle, x_text, y_rows, names, colors):
    for yc, nm, col in zip(y_rows, names, colors):
        shapes.append(dict(type="circle", xref="paper", yref="paper",
                           x0=px(x_circle - 6.5), x1=px(x_circle + 6.5),
                           y0=py(yc + 6.5), y1=py(yc - 6.5),
                           line=dict(color=col, width=2)))
        text(x_text, yc, nm, 17, weight="bold")


legend(784, 798, [471, 492.3, 513.5, 535, 556.5, 577.8], SERIES, COLORS)
legend(318, 332, [887.3, 908.7, 930, 951.7, 973.3, 994.7, 1016.5],
       SERIES + [REF_NAME], COLORS + [REF_COLOR])

fig.update_layout(annotations=ann, shapes=shapes)
fig.write_html("out.html")
